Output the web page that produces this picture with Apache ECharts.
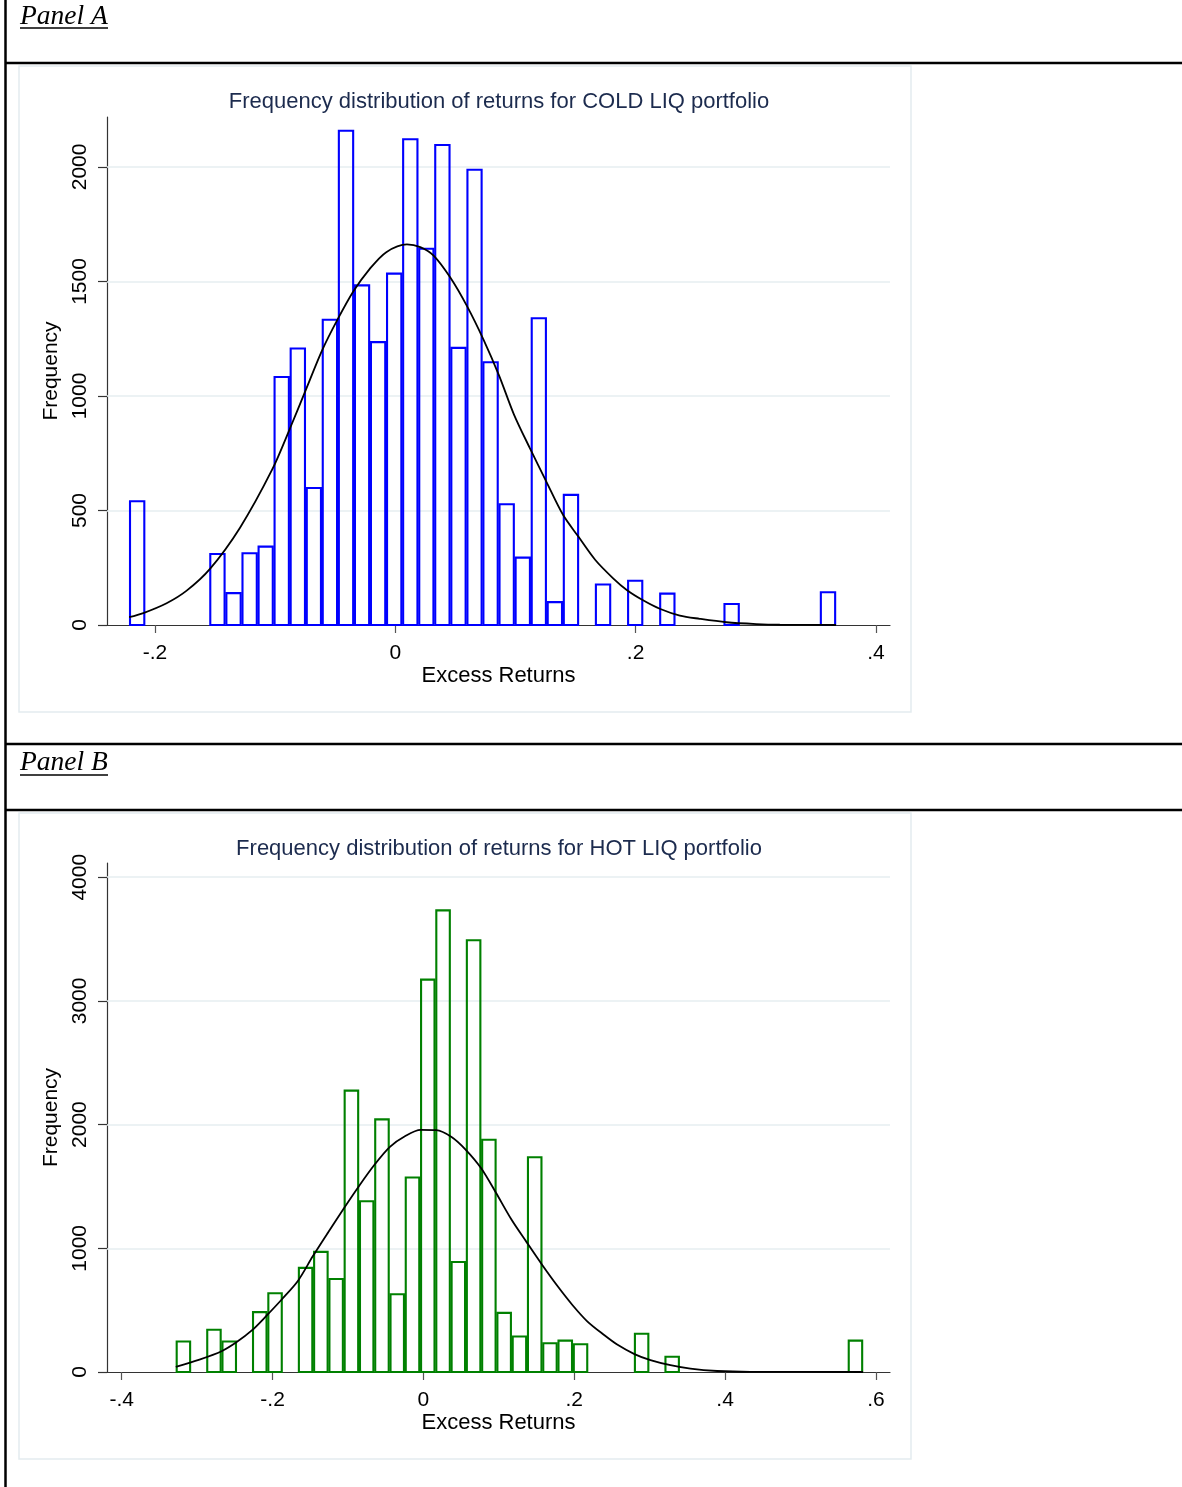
<!DOCTYPE html>
<html>
<head>
<meta charset="utf-8">
<script src="https://cdn.jsdelivr.net/npm/echarts@6/dist/echarts.min.js"></script>
<style>
html,body{margin:0;padding:0;background:#fff;}
#chart{width:1182px;height:1487px;}
</style>
</head>
<body>
<div id="chart"></div>
<script>
// ---------- Panel A: COLD LIQ ----------
const titleA = 'Frequency distribution of returns for COLD LIQ portfolio';
const binEdgesA = [-0.2215,-0.2081,-0.1948,-0.1814,-0.1680,-0.1547,-0.1413,-0.1279,-0.1145,-0.1012,
  -0.0878,-0.0744,-0.0611,-0.0477,-0.0343,-0.0210,-0.0076,0.0058,0.0192,0.0325,
  0.0459,0.0593,0.0726,0.0860,0.0994,0.1128,0.1261,0.1395,0.1529,0.1662,
  0.1796,0.1930,0.2063,0.2197,0.2331,0.2465,0.2598,0.2732,0.2866,0.2999,
  0.3133,0.3267,0.3400,0.3534,0.3668];
const countsA = [540,0,0,0,0,310,139,313,342,1083,1207,598,1333,2158,1483,1235,1534,2121,1643,2096,
  1210,1988,1147,527,294,1339,100,568,0,177,0,193,0,137,0,0,0,92,0,0,0,0,0,143];
const curveXA = [-0.2215,-0.2097,-0.1903,-0.1736,-0.1542,-0.1292,-0.1025,-0.0875,-0.0747,-0.0608,-0.0481,-0.0347,
  -0.0214,-0.0075,0.0097,0.0208,0.0319,0.0458,0.0597,0.0736,0.0864,0.0987,0.112,0.1259,0.1397,
  0.1525,0.1663,0.1813,0.1929,0.2062,0.2201,0.2368,0.2533,0.2756,0.3005,0.32,0.3668];
const curveYA = [34,52,95,150,245,425,678,860,1023,1200,1333,1458,1554,1628,1662,1650,1613,1517,1392,
  1244,1089,920,772,624,480,385,285,204,152,108,71,41,27,12,4,1,0];
const xTicksA = [-0.2,0,0.2,0.4];
const yTicksA = [0,500,1000,1500,2000];

// ---------- Panel B: HOT LIQ ----------
const titleB = 'Frequency distribution of returns for HOT LIQ portfolio';
const binEdgesB = [-0.3283,-0.3081,-0.2878,-0.2676,-0.2473,-0.2271,-0.2068,-0.1866,-0.1663,-0.1461,
  -0.1258,-0.1056,-0.0853,-0.0651,-0.0448,-0.0246,-0.0043,0.0159,0.0362,0.0564,
  0.0767,0.0969,0.1172,0.1374,0.1577,0.1779,0.1982,0.2184,0.2387,0.2589,
  0.2792,0.2994,0.3197,0.3399,0.3602,0.3804,0.4007,0.4209,0.4412,0.4614,
  0.4817,0.5019,0.5222,0.5424,0.5627,0.5829];
const countsB = [246,0,342,246,0,484,637,0,842,971,752,2275,1381,2042,629,1572,3172,3732,889,3491,
  1878,478,287,1736,232,254,224,0,0,0,309,0,123,0,0,0,0,0,0,0,0,0,0,0,254];
const curveXB = [-0.3283,-0.2969,-0.2676,-0.248,-0.2267,-0.208,-0.1876,-0.1662,-0.1467,-0.1262,
  -0.1058,-0.0853,-0.0649,-0.0444,-0.024,-0.0036,0.0169,0.0373,0.0556,0.0768,0.0962,0.1165,
  0.1368,0.158,0.1775,0.1978,0.2172,0.2392,0.2569,0.2798,0.301,0.3275,0.354,0.3894,0.4335,0.5829];
const curveYB = [41,100,168,240,340,455,588,738,935,1130,1320,1504,1675,1820,1908,1957,1955,1900,
  1800,1645,1449,1235,1050,861,697,540,410,301,222,145,96,55,27,8,1,0];
const xTicksB = [-0.4,-0.2,0,0.2,0.4,0.6];
const yTicksB = [0,1000,2000,3000,4000];

const xName = 'Excess Returns';
const yName = 'Frequency';

const FONT = '"Liberation Sans", Arial, Helvetica, sans-serif';
const SERIF = '"Liberation Serif", "Times New Roman", serif';
const FS = 21;
const FS_BIG = 22;

function histData(edges, counts){
  const out = [];
  counts.forEach((c,i)=>{ if(c>0) out.push([edges[i], edges[i+1], c]); });
  return out;
}
function pairs(xs, ys){ return xs.map((x,i)=>[x, ys[i]]); }
function fmtX(v){
  if (Math.abs(v) < 1e-9) return '0';
  const s = String(Math.abs(Math.round(v*10)/10)).replace(/^0/,'');
  return (v<0?'-':'') + s;
}
function fmtY(v){ return String(Math.round(v)); }
function renderHist(color){
  return function(params, api){
    const x0 = api.value(0), x1 = api.value(1), c = api.value(2);
    const p0 = api.coord([x0, c]);
    const p1 = api.coord([x1, 0]);
    const inset = 0.9;
    return {
      type:'rect',
      shape:{x:p0[0]+inset, y:p0[1], width:p1[0]-p0[0]-2*inset, height:p1[1]-p0[1]},
      style:{fill:'none', stroke:color, lineWidth:2.1}
    };
  };
}

const grids = [
  {left:107, right:292, top:117, height:508},
  {left:107, right:292, top:863, height:509}
];
function xAxis(idx, min, max, ticks){
  return {
    type:'value', gridIndex:idx, min:min, max:max,
    name:xName, nameLocation:'middle', nameGap:39,
    nameTextStyle:{fontFamily:FONT, fontSize:FS_BIG, color:'#000'},
    axisLine:{show:true, onZero:false, lineStyle:{color:'#333', width:1.2}},
    axisTick:{show:true, customValues:ticks, length:8, lineStyle:{color:'#555', width:1.2}},
    axisLabel:{customValues:ticks, formatter:fmtX, margin:18, fontFamily:FONT, fontSize:FS, color:'#000'},
    splitLine:{show:false}
  };
}
function yAxis(idx, max, ticks){
  return {
    type:'value', gridIndex:idx, min:0, max:max,
    name:yName, nameLocation:'middle', nameGap:40, nameRotate:90,
    nameTextStyle:{fontFamily:FONT, fontSize:FS, color:'#000'},
    axisLine:{show:true, onZero:false, lineStyle:{color:'#333', width:1.2}},
    axisTick:{show:true, customValues:ticks, length:9, lineStyle:{color:'#333', width:1.2}},
    axisLabel:{customValues:ticks, formatter:fmtY, rotate:90, margin:16, fontFamily:FONT, fontSize:FS, color:'#000'},
    splitLine:{show:false}
  };
}
function gridLines(ticks){
  return {
    silent:true, symbol:['none','none'], z:1,
    label:{show:false},
    lineStyle:{color:'#e6eef1', width:1.5, type:'solid'},
    emphasis:{disabled:true},
    data: ticks.filter(t=>t>0).map(t=>({yAxis:t}))
  };
}

const option = {
  animation:false,
  backgroundColor:'#fff',
  title:[
    {text:titleA, left:494, top:86, textAlign:'center',
     textStyle:{fontFamily:FONT, fontSize:FS_BIG, fontWeight:'normal', color:'#1c2b4e'}},
    {text:titleB, left:494, top:833, textAlign:'center',
     textStyle:{fontFamily:FONT, fontSize:FS_BIG, fontWeight:'normal', color:'#1c2b4e'}}
  ],
  grid:grids,
  xAxis:[xAxis(0,-0.2399,0.4117,xTicksA), xAxis(1,-0.4195,0.6186,xTicksB)],
  yAxis:[yAxis(0,2218,yTicksA), yAxis(1,4115,yTicksB)],
  series:[
    {type:'custom', xAxisIndex:0, yAxisIndex:0, z:2, renderItem:renderHist('#0000ff'),
     encode:{x:[0,1], y:2}, data:histData(binEdgesA,countsA), markLine:gridLines(yTicksA)},
    {type:'line', xAxisIndex:0, yAxisIndex:0, z:3, smooth:0.3, symbol:'none',
     lineStyle:{color:'#000', width:1.8}, data:pairs(curveXA,curveYA)},
    {type:'custom', xAxisIndex:1, yAxisIndex:1, z:2, renderItem:renderHist('#008000'),
     encode:{x:[0,1], y:2}, data:histData(binEdgesB,countsB), markLine:gridLines(yTicksB)},
    {type:'line', xAxisIndex:1, yAxisIndex:1, z:3, smooth:0.3, symbol:'none',
     lineStyle:{color:'#000', width:1.8}, data:pairs(curveXB,curveYB)}
  ],
  graphic:[
    // page frame
    {type:'line', shape:{x1:5.5,y1:0,x2:5.5,y2:1487}, style:{stroke:'#000', lineWidth:2.5}, silent:true},
    {type:'line', shape:{x1:5,y1:63,x2:1182,y2:63}, style:{stroke:'#000', lineWidth:2.5}, silent:true},
    {type:'line', shape:{x1:5,y1:744,x2:1182,y2:744}, style:{stroke:'#000', lineWidth:2.5}, silent:true},
    {type:'line', shape:{x1:5,y1:810,x2:1182,y2:810}, style:{stroke:'#000', lineWidth:2.5}, silent:true},
    // graph region borders
    {type:'rect', shape:{x:19,y:66,width:892,height:646}, style:{fill:'none', stroke:'#e4ecef', lineWidth:1.5}, silent:true, z:-1},
    {type:'rect', shape:{x:19,y:813,width:892,height:646}, style:{fill:'none', stroke:'#e4ecef', lineWidth:1.5}, silent:true, z:-1},
    // panel labels
    {type:'text', x:20, y:17, style:{text:'Panel A', font:'italic 27.5px '+SERIF, fill:'#000', verticalAlign:'middle', align:'left'}},
    {type:'line', shape:{x1:20,y1:28,x2:108,y2:28}, style:{stroke:'#000', lineWidth:1.3}, silent:true},
    {type:'text', x:20, y:763, style:{text:'Panel B', font:'italic 27.5px '+SERIF, fill:'#000', verticalAlign:'middle', align:'left'}},
    {type:'line', shape:{x1:20,y1:775,x2:108,y2:775}, style:{stroke:'#000', lineWidth:1.3}, silent:true}
  ]
};
const chart = echarts.init(document.getElementById('chart'), null, {renderer:'canvas'});
chart.setOption(option);
</script>
</body>
</html>
